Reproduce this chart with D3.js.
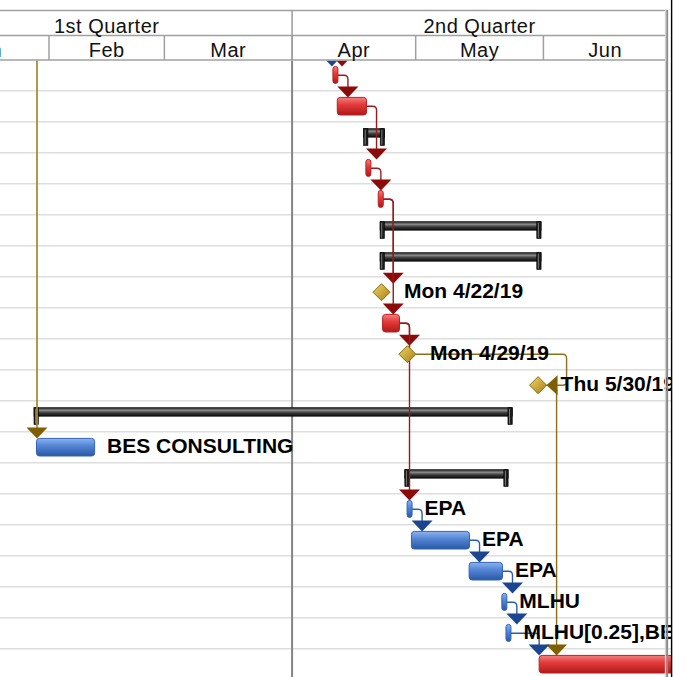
<!DOCTYPE html>
<html>
<head>
<meta charset="utf-8">
<script src="https://cdn.jsdelivr.net/npm/d3@7"></script>
<style>
  body { margin: 0; background: #fff; }
  svg { display: block; }
</style>
</head>
<body>
<svg id="gantt"></svg>
<script>
// timescale labels
var quarterLabels = ["1st Quarter", "2nd Quarter"];
var monthLabels = ["Jan", "Feb", "Mar", "Apr", "May", "Jun"];

// one entry per visible row
var taskType = ["task", "task", "summary", "task", "task", "summary", "summary", "milestone", "task", "milestone",
                "milestone", "summary", "task", "summary", "task", "task", "task", "task", "task", "task"];
var taskCritical = [true, true, true, true, true, true, true, true, true, true,
                    true, false, false, false, false, false, false, false, false, true];
var taskStart = ["2019-04-11T08:00", "2019-04-12T08:00", "2019-04-19T08:00", "2019-04-19T08:00", "2019-04-22T08:00",
                 "2019-04-23T08:00", "2019-04-23T08:00", "2019-04-22T17:00", "2019-04-23T08:00", "2019-04-29T00:00",
                 "2019-05-30T17:00", "2019-01-29T08:00", "2019-01-29T08:00", "2019-04-29T08:00", "2019-04-29T08:00",
                 "2019-04-30T08:00", "2019-05-14T08:00", "2019-05-22T08:00", "2019-05-23T08:00", "2019-05-31T08:00"];
var taskFinish = ["2019-04-11T17:00", "2019-04-18T17:00", "2019-04-22T17:00", "2019-04-19T17:00", "2019-04-22T17:00",
                  "2019-05-30T17:00", "2019-05-30T17:00", "2019-04-22T17:00", "2019-04-26T17:00", "2019-04-29T00:00",
                  "2019-05-30T17:00", "2019-05-23T17:00", "2019-02-11T17:00", "2019-05-22T17:00", "2019-04-29T17:00",
                  "2019-05-13T17:00", "2019-05-21T17:00", "2019-05-22T17:00", "2019-05-23T17:00", "2019-07-12T17:00"];
var taskLabel = ["", "", "", "", "", "", "", "Mon 4/22/19", "", "Mon 4/29/19",
                 "Thu 5/30/19", "", "BES CONSULTING", "", "EPA", "EPA", "EPA", "MLHU", "MLHU[0.25],BES CONSULTING", ""];

// finish-to-start links (row -> row)
var linkFrom = [0, 1, 3, 4, 4, 8, 8, 10, 14, 15, 16, 17, 18];
var linkTo   = [1, 3, 4, 7, 8, 9, 14, 19, 15, 16, 17, 18, 19];
// finish-to-finish links
var ffFrom = [9];
var ffTo = [10];
// links coming from rows above the visible area
var stubTo = [0, 0, 12];
var stubAt = ["2019-04-10T16:00", "2019-04-13T03:00", "2019-01-29T02:00"];
var stubKind = ["blue", "red", "gold"];

var W = 696, H = 677;
var rowH = 31, bodyTop = 59.7, clipRight = 671;

var svg = d3.select("#gantt").attr("width", W).attr("height", H)
    .style("font-family", "'Liberation Sans', Arial, sans-serif");

var parse = d3.utcParse("%Y-%m-%dT%H:%M");

var x = d3.scaleUtc()
    .domain([new Date(Date.UTC(2019, 1, 1)), new Date(Date.UTC(2019, 6, 1))])
    .range([49, 667]);

var y = d3.scaleBand()
    .domain(d3.range(taskType.length))
    .range([bodyTop, bodyTop + taskType.length * rowH]);

function cy(i) { return y(i) + rowH / 2; }

var colors = {
    red:  {line: "#9a1a1a", head: "#8b0a0a"},
    blue: {line: "#2d5caa", head: "#1c4590"},
    gold: {line: "#8d6e1a", head: "#7f5f00"}
};

var tasks = taskType.map(function(t, i) {
    return {row: i, type: t, crit: taskCritical[i], s: parse(taskStart[i]), f: parse(taskFinish[i]), label: taskLabel[i]};
});

// drawn extent of each row's mark
function box(d) {
    var x0 = x(d.s), x1 = x(d.f);
    if (d.type == "milestone") return {x0: x1 - 8.5, x1: x1 + 8.5};
    if (d.type == "summary") return {x0: x0 - 4, x1: x1 + 3};
    if (x1 - x0 < 5) {
        var m = (x0 + x1) / 2;
        return {x0: m - 2.5, x1: m + 2.5};
    }
    return {x0: x0 - 1.5, x1: x1 + 1.5};
}
function topOf(d) { return d.type == "task" ? cy(d.row) - 8.8 : cy(d.row) - 8.5; }
function kindOf(d) { return d.type == "milestone" ? "gold" : (d.crit ? "red" : "blue"); }

// gradients
var defs = svg.append("defs");
function vgrad(id, stops) {
    var g = defs.append("linearGradient").attr("id", id)
        .attr("x1", 0).attr("y1", 0).attr("x2", 0).attr("y2", 1);
    stops.forEach(function(s) { g.append("stop").attr("offset", s[0]).attr("stop-color", s[1]); });
}
vgrad("redGrad", [[0, "#f58080"], [0.4, "#e43c3c"], [1, "#b11818"]]);
vgrad("blueGrad", [[0, "#8db3ee"], [0.4, "#5587d6"], [1, "#2a58a6"]]);
vgrad("sumGrad", [[0, "#1a1a1a"], [0.3, "#8c8c8c"], [0.6, "#3a3a3a"], [1, "#0d0d0d"]]);
var gg = defs.append("linearGradient").attr("id", "goldGrad")
    .attr("x1", 0).attr("y1", 0).attr("x2", 1).attr("y2", 1);
gg.append("stop").attr("offset", 0).attr("stop-color", "#f2d76a");
gg.append("stop").attr("offset", 1).attr("stop-color", "#a47d14");

defs.append("clipPath").attr("id", "bodyClip").append("rect")
    .attr("x", 0).attr("y", 60.5).attr("width", clipRight).attr("height", H);
defs.append("clipPath").attr("id", "headClip").append("rect")
    .attr("x", 0).attr("y", 0).attr("width", clipRight).attr("height", 61);

// ---- body ----
var body = svg.append("g").attr("clip-path", "url(#bodyClip)");

body.selectAll("line.row")
    .data(d3.range(1, taskType.length + 1))
    .enter().append("line")
    .attr("class", "row")
    .attr("x1", 0).attr("x2", clipRight)
    .attr("y1", d => y(0) + d * rowH).attr("y2", d => y(0) + d * rowH)
    .attr("stroke", "#dedede").attr("stroke-width", 1.5);

var quarterStarts = d3.utcMonth.every(3).range(new Date(Date.UTC(2019, 0, 1)), new Date(Date.UTC(2019, 9, 1)));
var monthStarts = d3.utcMonth.range(new Date(Date.UTC(2019, 0, 1)), new Date(Date.UTC(2019, 7, 1)));

body.selectAll("line.q")
    .data(quarterStarts.slice(1))
    .enter().append("line")
    .attr("class", "q")
    .attr("x1", d => x(d)).attr("x2", d => x(d))
    .attr("y1", 0).attr("y2", H)
    .attr("stroke", "#858585").attr("stroke-width", 2);

// summary bars
var sums = body.selectAll("g.sum")
    .data(tasks.filter(d => d.type == "summary"))
    .enter().append("g").attr("class", "sum");
sums.append("rect")
    .attr("x", d => box(d).x0).attr("width", d => box(d).x1 - box(d).x0)
    .attr("y", d => cy(d.row) - 8.5).attr("height", 8.5)
    .attr("fill", "url(#sumGrad)").attr("stroke", "#000").attr("stroke-width", 0.6);
[function(d) { return box(d).x0; }, function(d) { return box(d).x1 - 4.3; }].forEach(function(fx) {
    sums.append("rect")
        .attr("x", fx).attr("width", 4.3)
        .attr("y", d => cy(d.row) - 8.5).attr("height", 16.8)
        .attr("fill", "#1c1c1c").attr("stroke", "#000").attr("stroke-width", 0.6);
    sums.append("line")
        .attr("x1", d => fx(d) + 1.6).attr("x2", d => fx(d) + 1.6)
        .attr("y1", d => cy(d.row) - 7.5).attr("y2", d => cy(d.row) + 7.5)
        .attr("stroke", "#7a7a7a").attr("stroke-width", 1);
});

// links
var linkG = body.append("g");
var r = 4;
function tri(vx, tip) {
    return "M" + (vx - 10.5) + "," + (tip - 11) + "L" + (vx + 10.5) + "," + (tip - 11) + "L" + vx + "," + tip + "Z";
}
linkFrom.forEach(function(a, k) {
    var p = tasks[a], s = tasks[linkTo[k]];
    var x0 = box(p).x1, y0 = cy(p.row);
    var vx = Math.max(x0 + 10, x(s.s) - 1.5);
    var tip = topOf(s);
    var c = colors[kindOf(p)];
    linkG.append("path")
        .attr("d", "M" + x0 + "," + y0 + "H" + (vx - r) + "Q" + vx + "," + y0 + " " + vx + "," + (y0 + r) + "V" + (tip - 10))
        .attr("fill", "none").attr("stroke", c.line).attr("stroke-width", 1.4);
    linkG.append("path").attr("d", tri(vx, tip)).attr("fill", c.head);
});
ffFrom.forEach(function(a, k) {
    var p = tasks[a], s = tasks[ffTo[k]];
    var x0 = box(p).x1, y0 = cy(p.row);
    var xe = box(s).x1, ye = cy(s.row);
    var vx = xe + 20;
    var c = colors[kindOf(p)];
    linkG.append("path")
        .attr("d", "M" + x0 + "," + y0 + "H" + (vx - r) + "Q" + vx + "," + y0 + " " + vx + "," + (y0 + r) +
                   "V" + (ye - r) + "Q" + vx + "," + ye + " " + (vx - r) + "," + ye + "H" + (xe + 10))
        .attr("fill", "none").attr("stroke", c.line).attr("stroke-width", 1.4);
    linkG.append("path")
        .attr("d", "M" + (xe + 11) + "," + (ye - 10) + "L" + (xe + 11) + "," + (ye + 10) + "L" + xe + "," + ye + "Z")
        .attr("fill", c.head);
});
stubTo.forEach(function(t, k) {
    var s = tasks[t];
    var vx = x(parse(stubAt[k]));
    var tip = topOf(s);
    var c = colors[stubKind[k]];
    linkG.append("line")
        .attr("x1", vx).attr("x2", vx).attr("y1", 40).attr("y2", tip - 10)
        .attr("stroke", stubKind[k] == "gold" ? "#a88c3c" : c.line).attr("stroke-width", 1.8);
    linkG.append("path").attr("d", tri(vx, tip)).attr("fill", c.head);
});

// task bars
body.selectAll("rect.task")
    .data(tasks.filter(d => d.type == "task"))
    .enter().append("rect")
    .attr("class", "task")
    .attr("x", d => box(d).x0).attr("width", d => box(d).x1 - box(d).x0)
    .attr("y", d => topOf(d))
    .attr("height", d => (box(d).x1 - box(d).x0) <= 5 ? 17 : 17.6)
    .attr("rx", d => (box(d).x1 - box(d).x0) <= 5 ? 2.5 : 3)
    .attr("fill", d => d.crit ? "url(#redGrad)" : "url(#blueGrad)")
    .attr("stroke", d => d.crit ? "#bb2020" : "#3064bb").attr("stroke-width", 1);

// milestones
body.selectAll("path.ms")
    .data(tasks.filter(d => d.type == "milestone"))
    .enter().append("path")
    .attr("class", "ms")
    .attr("d", function(d) {
        var mx = x(d.f), my = cy(d.row);
        return "M" + mx + "," + (my - 8.5) + "L" + (mx + 8.5) + "," + my + "L" + mx + "," + (my + 8.5) + "L" + (mx - 8.5) + "," + my + "Z";
    })
    .attr("fill", "url(#goldGrad)").attr("stroke", "#8a6a12").attr("stroke-width", 1);

// labels
body.selectAll("text.lbl")
    .data(tasks.filter(d => d.label))
    .enter().append("text")
    .attr("class", "lbl")
    .attr("x", d => d.type == "milestone" ? x(d.f) + 22.5 : box(d).x1 + 12.5)
    .attr("y", d => cy(d.row) + 5.8)
    .attr("font-size", 21).attr("font-weight", "bold")
    .attr("fill", "#000")
    .text(d => d.label);

// ---- header ----
var head = svg.append("g").attr("clip-path", "url(#headClip)");
head.append("rect").attr("x", 0).attr("y", 10).attr("width", clipRight).attr("height", 50).attr("fill", "#fff");

[10.5, 35.5, 60].forEach(function(hy) {
    head.append("line").attr("x1", 0).attr("x2", 667).attr("y1", hy).attr("y2", hy)
        .attr("stroke", "#a0a0a0").attr("stroke-width", 1.6);
});

head.selectAll("line.mo")
    .data(monthStarts)
    .enter().append("line")
    .attr("class", "mo")
    .attr("x1", d => x(d)).attr("x2", d => x(d))
    .attr("y1", 35.5).attr("y2", 60)
    .attr("stroke", "#a0a0a0").attr("stroke-width", 1.5);

head.selectAll("line.qh")
    .data(quarterStarts.slice(1))
    .enter().append("line")
    .attr("class", "qh")
    .attr("x1", d => x(d)).attr("x2", d => x(d))
    .attr("y1", 10.5).attr("y2", 60)
    .attr("stroke", "#a0a0a0").attr("stroke-width", 1.6);

head.selectAll("text.qt")
    .data(quarterStarts.slice(0, quarterLabels.length))
    .enter().append("text")
    .attr("class", "qt")
    .attr("x", d => (x(d) + x(d3.utcMonth.offset(d, 3))) / 2)
    .attr("y", 32.5)
    .attr("text-anchor", "middle").attr("font-size", 20).attr("letter-spacing", 0.5)
    .attr("fill", "#111")
    .text((d, i) => quarterLabels[i]);

head.selectAll("text.mt")
    .data(monthStarts.slice(0, monthLabels.length))
    .enter().append("text")
    .attr("class", "mt")
    .attr("x", d => (x(d) + x(d3.utcMonth.offset(d, 1))) / 2)
    .attr("y", 56.5)
    .attr("text-anchor", "middle").attr("font-size", 20).attr("letter-spacing", 0.5)
    .attr("fill", "#111")
    .text((d, i) => monthLabels[i]);

// right edge of the chart pane
svg.append("line").attr("x1", 665.6).attr("x2", 665.6).attr("y1", 10).attr("y2", H)
    .attr("stroke", "#d0d0d0").attr("stroke-width", 1.5);
svg.append("line").attr("x1", 667.4).attr("x2", 667.4).attr("y1", 10).attr("y2", H)
    .attr("stroke", "#8c8c8c").attr("stroke-width", 1.5);
svg.append("line").attr("x1", 671.6).attr("x2", 671.6).attr("y1", 0).attr("y2", H)
    .attr("stroke", "#000").attr("stroke-width", 1.4);
</script>
</body>
</html>
